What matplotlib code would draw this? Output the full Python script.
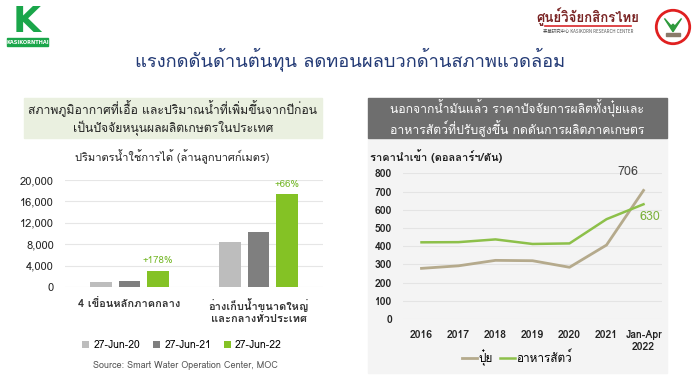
import matplotlib
matplotlib.use("Agg")
import matplotlib.pyplot as plt
import numpy as np
from matplotlib import font_manager
from matplotlib.ft2font import FT2Font
from matplotlib.patches import Rectangle, Circle, Polygon
from matplotlib.lines import Line2D

# ---- data ----
BAR_GROUPS = ["4 เขื่อนหลักภาคกลาง", "อ่างเก็บน้ำขนาดใหญ่\nและกลางทั่วประเทศ"]
BAR_SERIES = ["27-Jun-20", "27-Jun-21", "27-Jun-22"]
BAR_VALUES = {
    "27-Jun-20": [930, 8400],
    "27-Jun-21": [1080, 10350],
    "27-Jun-22": [3050, 17300],
}
BAR_NOTES = ["+178%", "+66%"]
BAR_YTICKS = [0, 4000, 8000, 12000, 16000, 20000]

YEARS = ["2016", "2017", "2018", "2019", "2020", "2021", "Jan-Apr\n2022"]
FERTILIZER = [278, 292, 322, 320, 284, 406, 706]
FEED = [421, 422, 437, 412, 415, 548, 630]
LINE_YTICKS = [0, 100, 200, 300, 400, 500, 600, 700, 800]

W, H = 700, 389


def thai_family():
    for f in font_manager.fontManager.ttflist:
        try:
            if FT2Font(f.fname).get_char_index(0x0E01):
                return f.name
        except Exception:
            pass
    return "DejaVu Sans"


plt.rcParams["font.family"] = [thai_family(), "DejaVu Sans"]


def fx(x):
    return x / W


def fy(y):
    return 1 - y / H


def box(x0, y0, x1, y1):
    return [fx(x0), fy(y1), fx(x1) - fx(x0), fy(y0) - fy(y1)]


def fig_rect(fig, x0, y0, x1, y1, color):
    fig.patches.append(Rectangle((fx(x0), fy(y1)), fx(x1) - fx(x0), fy(y0) - fy(y1),
                                 transform=fig.transFigure, color=color, zorder=-5))


fig = plt.figure(figsize=(7, 3.89), dpi=100)
fig.patch.set_facecolor("white")

# ---- logos + title ----
fig.text(fx(27), fy(22), "K", color="#1aa64a", fontsize=26, fontweight="bold",
         ha="center", va="center", family="DejaVu Sans")
fig_rect(fig, 7, 38, 48, 46, "#1aa64a")
fig.text(fx(27.5), fy(42), "KASIKORNTHAI", color="white", fontsize=3.6,
         fontweight="bold", ha="center", va="center", family="DejaVu Sans")

fig.text(fx(588), fy(17), "ศูนย์วิจัยกสิกรไทย", color="#7a2424", fontsize=9.5,
         fontweight="bold", ha="center", va="center")
fig.lines.append(Line2D([fx(545), fx(631)], [fy(26), fy(26)],
                        transform=fig.transFigure, color="#d9262a", lw=1.2))
fig.text(fx(588), fy(31), "泰華研究中心 KASIKORN RESEARCH CENTER", color="#555555",
         fontsize=3.2, ha="center", va="center",
         family=["Noto Sans CJK SC", "DejaVu Sans"])
logo = fig.add_axes(box(654, 8, 692, 46))
logo.set_xlim(-1, 1)
logo.set_ylim(-1, 1)
logo.set_aspect("equal")
logo.axis("off")
logo.add_patch(Circle((0, 0), 0.88, facecolor="white", edgecolor="#e02020", lw=2))
logo.add_patch(Polygon([(-0.45, 0.45), (0, -0.25), (0.45, 0.45), (0.1, 0.05), (0, 0.15),
                        (-0.1, 0.05)], color="#2e9a3c"))
logo.add_patch(Rectangle((-0.35, -0.45), 0.7, 0.15, color="#8a7a6a"))

fig.text(fx(350), fy(59), "แรงกดดันด้านต้นทุน ลดทอนผลบวกด้านสภาพแวดล้อม",
         color="#233a75", fontsize=13.2, ha="center", va="center")

# ---- left panel ----
fig_rect(fig, 24, 98, 322, 138, "#eaf0e0")
fig.text(fx(173), fy(118), "สภาพภูมิอากาศที่เอื้อ และปริมาณน้ำที่เพิ่มขึ้นจากปีก่อน\nเป็นปัจจัยหนุนผลผลิตเกษตรในประเทศ",
         color="#222222", fontsize=8.8, ha="center", va="center", linespacing=1.3)
fig.text(fx(172), fy(157), "ปริมาตรน้ำใช้การได้ (ล้านลูกบาศก์เมตร)", color="#222222",
         fontsize=8, ha="center", va="center")

ax = fig.add_axes(box(65, 180, 323, 287))
colors = ["#bdbdbd", "#7f7f7f", "#84c225"]
x = np.arange(len(BAR_GROUPS))
handles = []
for i, (name, c) in enumerate(zip(BAR_SERIES, colors)):
    b = ax.bar(x + (i - 1) * 0.22, BAR_VALUES[name], width=0.17, color=c, label=name, zorder=3)
    handles.append(b)
last = BAR_VALUES[BAR_SERIES[-1]]
for xi, v, note in zip(x, last, BAR_NOTES):
    ax.annotate(note, (xi + 0.22, v), xytext=(0, 4), textcoords="offset points",
                ha="center", va="bottom", color="#76b82a", fontsize=7)
ax.set_xlim(-0.5, 1.5)
ax.set_ylim(0, 20000)
ax.set_yticks(BAR_YTICKS)
ax.set_yticklabels([f"{v:,}" for v in BAR_YTICKS], fontsize=8, color="#222222")
ax.set_xticks(x)
ax.set_xticklabels(BAR_GROUPS, fontsize=8, color="#333333", fontweight="bold")
ax.grid(axis="y", color="#e6e6e6", lw=0.8, zorder=0)
ax.tick_params(length=0, pad=8)
for s in ax.spines.values():
    s.set_visible(False)
ax.patch.set_alpha(0)
fig.legend(handles=handles, labels=BAR_SERIES, loc="center", bbox_to_anchor=(fx(182), fy(345)),
           ncol=3, frameon=False, fontsize=7.5, handlelength=0.7, handleheight=0.7,
           columnspacing=1.2, handletextpad=0.4)
fig.text(fx(185), fy(366), "Source: Smart Water Operation Center, MOC", color="#555555",
         fontsize=6.5, ha="center", va="center")

# ---- right panel ----
fig_rect(fig, 368, 138, 667, 373, "#f4f4f4")
fig_rect(fig, 368, 98, 667, 138, "#6e6e6e")
fig.text(fx(517), fy(118), "นอกจากน้ำมันแล้ว ราคาปัจจัยการผลิตทั้งปุ๋ยและ\nอาหารสัตว์ที่ปรับสูงขึ้น กดดันการผลิตภาคเกษตร",
         color="white", fontsize=8.8, ha="center", va="center", linespacing=1.3)
fig.text(fx(370), fy(156), "ราคานำเข้า (ดอลลาร์ฯ/ตัน)", color="#222222", fontsize=8,
         fontweight="bold", ha="left", va="center")

ax2 = fig.add_axes(box(403, 173.3, 662, 319))
xs = np.arange(len(YEARS))
l1, = ax2.plot(xs, FERTILIZER, color="#b5aa8c", lw=2, label="ปุ๋ย", zorder=3)
l2, = ax2.plot(xs, FEED, color="#8dc04a", lw=1.8, label="อาหารสัตว์", zorder=3)
ax2.annotate(f"{FERTILIZER[-1]}", (xs[-1], FERTILIZER[-1]), xytext=(-11, 9),
             textcoords="offset points", ha="center", va="bottom", color="#444444", fontsize=9)
ax2.annotate(f"{FEED[-1]}", (xs[-1], FEED[-1]), xytext=(-3, -9),
             textcoords="offset points", ha="left", va="center", color="#7ab03a", fontsize=9)
ax2.set_xlim(-0.5, 6.5)
ax2.set_ylim(0, 800)
ax2.set_yticks(LINE_YTICKS)
ax2.set_yticklabels([str(v) for v in LINE_YTICKS], fontsize=7.5, color="#222222",
                    fontweight="bold")
ax2.set_xticks(xs)
ax2.set_xticklabels(YEARS, fontsize=7.5, color="#222222", fontweight="bold")
ax2.grid(axis="y", color="#e4e4e4", lw=0.8, zorder=0)
ax2.tick_params(length=0, pad=8)
for s in ax2.spines.values():
    s.set_visible(False)
ax2.patch.set_alpha(0)
fig.legend(handles=[l1, l2], loc="center", bbox_to_anchor=(fx(517), fy(358)), ncol=2,
           frameon=False, fontsize=8.5, handlelength=1.3, handletextpad=0.1, columnspacing=0.6)

fig.savefig("out.png", dpi=100)
